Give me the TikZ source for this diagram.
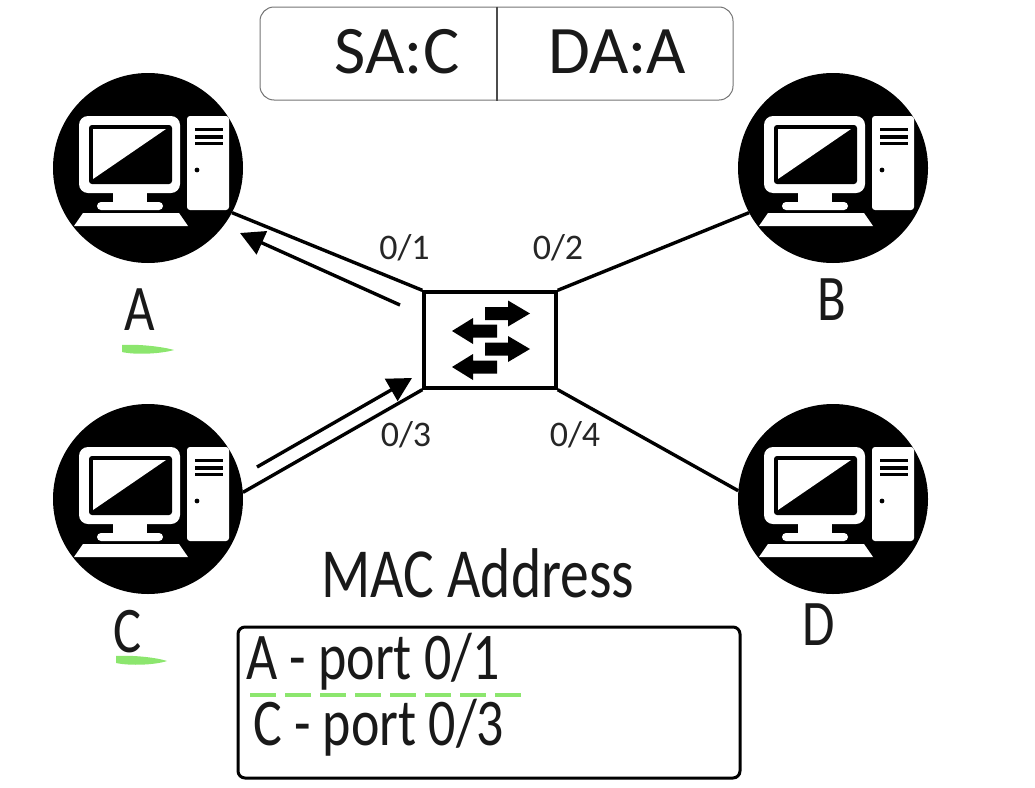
\documentclass[tikz,border=0pt]{standalone}
\usepackage{fontspec}
\setmainfont{Carlito}
\usetikzlibrary{arrows.meta}
\definecolor{hlgreen}{HTML}{8CE66E}
\tikzset{
  pcdisc/.style={circle,fill=black,draw=none,minimum size=190pt,inner sep=0pt},
  link/.style={draw=black,line width=3.4pt},
  flow/.style={draw=black,line width=3.4pt,-{Triangle[length=24pt,width=25pt]},shorten >=0pt},
  swbox/.style={draw=black,line width=3.4pt,fill=white,minimum width=132pt,minimum height=96pt,inner sep=0pt},
  portlabel/.style={font=\fontsize{36}{36}\selectfont,inner sep=0pt,text=black!85},
  hostlabel/.style={font=\fontsize{62}{62}\selectfont,inner sep=0pt,text=black!90},
  bigfield/.style={font=\fontsize{68}{68}\selectfont,inner sep=0pt,text=black!90},
  handtext/.style={font=\fontsize{58}{58}\selectfont,inner sep=0pt,anchor=west,text=black!90},
  hl/.style={fill=hlgreen,draw=none},
}
\newcommand{\pcicon}[2]{%
  \begin{scope}[shift={(#1,#2)}]
    \fill[white,rounded corners=9pt] (-69,-52) rectangle (32,25);
    \fill[black,rounded corners=3pt] (-59,-43) rectangle (24,16);
    \fill[white] (-55,-39) -- (18,-39) -- (-55,11) -- cycle;
    \fill[white] (-35,25) rectangle (-1,36);
    \fill[white,rounded corners=4pt] (-51,34) rectangle (15,42);
    \fill[white] (-65,45) -- (31,45) -- (40,58) -- (-74,58) -- cycle;
    \fill[white,rounded corners=3pt] (39,-52) rectangle (81,42);
    \fill[black] (47,-40) rectangle (75,-37);
    \fill[black] (47,-33) rectangle (75,-29);
    \fill[black] (47,-26) rectangle (75,-23);
    \fill[black] (49,2) circle (2.4);
  \end{scope}}
\newcommand{\rarrowshape}[2]{\fill[black] (#1-45,#2-6.5) -- (#1-22,#2-6.5) -- (#1-22,#2-13) -- (#1,#2) -- (#1-22,#2+13) -- (#1-22,#2+6.5) -- (#1-45,#2+6.5) -- cycle;}
\newcommand{\larrowshape}[2]{\fill[black] (#1+45,#2-6.5) -- (#1+21,#2-6.5) -- (#1+21,#2-13) -- (#1,#2) -- (#1+21,#2+13) -- (#1+21,#2+6.5) -- (#1+45,#2+6.5) -- cycle;}
\begin{document}
\begin{tikzpicture}[x=1pt,y=-1pt]
\useasboundingbox (0,0) rectangle (1035,787);
% hosts
\node[pcdisc] (pcA) at (148,168) {};
\node[pcdisc] (pcB) at (833,168) {};
\node[pcdisc] (pcC) at (148,499) {};
\node[pcdisc] (pcD) at (833,499) {};
% switch
\node[swbox] (sw) at (490,340) {};
% links
\draw[link] (pcA.-28) -- (sw.north west);
\draw[link] (pcB.208) -- (sw.north east);
\draw[link] (pcC.4) -- (sw.south west);
\draw[link] (pcD.175) -- (sw.south east);
% icons
\pcicon{148}{168}\pcicon{833}{168}\pcicon{148}{499}\pcicon{833}{499}
\rarrowshape{530}{313.5}\larrowshape{452}{331}\rarrowshape{530}{349}\larrowshape{452}{367}
% flows
\coordinate (aS) at (400,305);
\coordinate (aE) at (240,233);
\coordinate (cS) at (257,467);
\coordinate (cE) at (412,378);
\draw[flow] (aS) -- (aE);
\draw[flow] (cS) -- (cE);
% frame header
\node[draw=black!55,line width=1pt,rounded corners=14pt,minimum width=473pt,minimum height=93pt,inner sep=0pt] (hdr) at (496.5,53.5) {};
\draw[black!70,line width=1.2pt] (hdr.north -| 497,0) -- (hdr.south -| 497,0);
\node[bigfield] (sa) at (397,52) {SA:C};
\node[bigfield] (da) at (617,52) {DA:A};
% port labels
\node[portlabel] (p1) at (404.5,248) {0/1};
\node[portlabel] (p2) at (558,248) {0/2};
\node[portlabel] (p3) at (406,435) {0/3};
\node[portlabel] (p4) at (575,435) {0/4};
% host labels
\node[hostlabel] (lA) at (140,310) {\scalebox{.85}[1.05]{A}};
\node[hostlabel] (lB) at (832,300) {\scalebox{.85}[1.05]{B}};
\node[hostlabel] (lC) at (128,632) {\scalebox{.85}[1.05]{C}};
\node[hostlabel] (lD) at (819,625) {\scalebox{.85}[1.05]{D}};
\fill[hl] (122,345) .. controls (135,344) and (160,346) .. (174,350) .. controls (160,354) and (135,355) .. (122,352) -- cycle;
\fill[hl] (116,656) .. controls (130,655) and (155,657) .. (167,661) .. controls (155,665) and (130,666) .. (116,663) -- cycle;
% MAC table
\node[font=\fontsize{64}{64}\selectfont,inner sep=0pt,text=black!90] (mac) at (478,573) {\scalebox{.9}[1.1]{MAC Address}};
\node[draw=black,line width=3pt,rounded corners=7pt,minimum width=502pt,minimum height=151pt,inner sep=0pt] (tbl) at (489,702.5) {};
\node[handtext] (r1) at (246,662) {\scalebox{.93}[1.15]{A - port 0/1}};
\node[handtext] (r2) at (253,728) {\scalebox{.93}[1.15]{C - port 0/3}};
\draw[hlgreen,line width=3.5pt,dash pattern=on 26pt off 9pt] (250,695) -- (522,695);
\end{tikzpicture}
\end{document}
